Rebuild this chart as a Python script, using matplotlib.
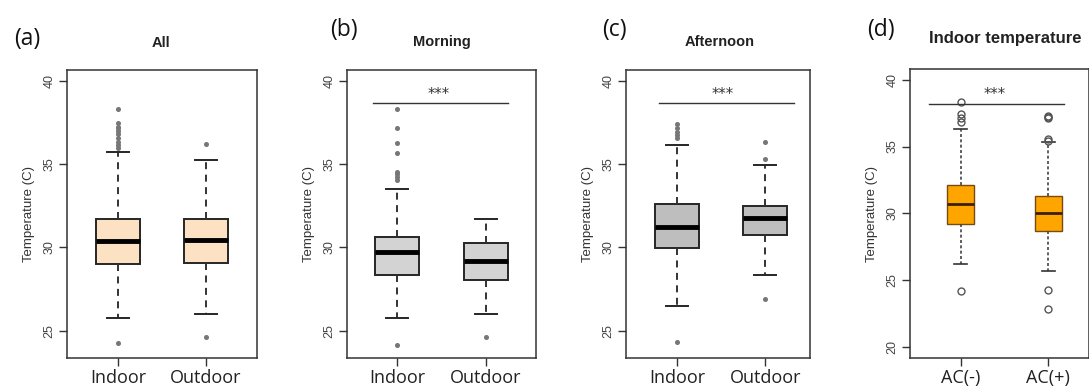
import matplotlib
matplotlib.use("Agg")
import matplotlib.pyplot as plt

# ---------------- data ----------------
categories_ab = ["Indoor", "Outdoor"]
categories_d = ["AC(-)", "AC(+)"]
titles = ["All", "Morning", "Afternoon", "Indoor temperature"]
panel_labels = ["(a)", "(b)", "(c)", "(d)"]

# stats per box: [whislo, q1, median, q3, whishi]
a_indoor = [25.76, 29.00, 30.38, 31.70, 35.70]
a_indoor_out = [24.26, 35.95, 36.15, 36.35, 36.55, 36.80, 37.00, 37.15, 37.25, 37.45, 38.30]
a_outdoor = [26.02, 29.05, 30.44, 31.73, 35.24]
a_outdoor_out = [24.62, 36.22]

b_indoor = [25.76, 28.35, 29.70, 30.64, 33.49]
b_indoor_out = [24.16, 34.05, 34.25, 34.40, 34.55, 35.68, 36.28, 37.15, 38.30]
b_outdoor = [25.98, 28.07, 29.17, 30.26, 31.69]
b_outdoor_out = [24.62]

c_indoor = [26.51, 29.98, 31.24, 32.59, 36.14]
c_indoor_out = [24.34, 36.55, 36.75, 36.95, 37.15, 37.40]
c_outdoor = [28.35, 30.72, 31.78, 32.49, 34.92]
c_outdoor_out = [26.89, 35.28, 36.30]

d_acminus = [26.22, 29.25, 30.72, 32.14, 36.32]
d_acminus_out = [24.18, 36.81, 37.14, 37.44, 38.30]
d_acplus = [25.72, 28.71, 30.03, 31.32, 35.32]
d_acplus_out = [22.84, 24.28, 35.45, 35.55, 37.12, 37.22, 37.30]

significance = ["***", "***", "***"]

# ---------------- layout helpers ----------------
W, H = 1089, 392
fig = plt.figure(figsize=(W / 100, H / 100), dpi=100)

def add_ax(left, right, top, bottom):
    return fig.add_axes([left / W, 1 - bottom / H, (right - left) / W, (bottom - top) / H])

def stats(vals, fl):
    lo, q1, med, q3, hi = vals
    return dict(whislo=lo, q1=q1, med=med, q3=q3, whishi=hi, fliers=fl)

def style_axes(ax, yticks, ylim, xlim, labels, tick_font):
    ax.set_ylim(*ylim)
    ax.set_xlim(*xlim)
    ax.set_yticks(yticks)
    ax.set_yticklabels([str(t) for t in yticks], rotation=90, va="center",
                       fontsize=9, color="#444444", family=["Liberation Sans", "DejaVu Sans"])
    ax.set_xticks([1, 2])
    ax.set_xticklabels(labels, fontsize=tick_font, color="#222222",
                       family=["Open Sans", "DejaVu Sans"])
    ax.tick_params(axis="both", length=5.5, width=1.0, color="#333333")
    ax.tick_params(axis="y", pad=3)
    ax.tick_params(axis="x", pad=2.5)
    for s in ax.spines.values():
        s.set_color("#333333")
        s.set_linewidth(1.1)
    ax.set_ylabel("Temperature (C)", fontsize=9.5, color="#333333",
                  family=["Liberation Sans", "DejaVu Sans"], labelpad=6)

def draw_grey(ax, s1, s2, fill):
    ax.bxp([s1, s2], positions=[1, 2], widths=0.5, patch_artist=True,
           showfliers=True, capwidths=0.25,
           boxprops=dict(facecolor=fill, edgecolor="#262626", linewidth=1.4),
           medianprops=dict(color="black", linewidth=3.5, solid_capstyle="butt"),
           whiskerprops=dict(color="#333333", linewidth=1.4, linestyle=(0, (3.6, 2.8))),
           capprops=dict(color="#262626", linewidth=1.4),
           flierprops=dict(marker="o", markersize=2.6, markerfacecolor="#777777",
                           markeredgecolor="#777777", linestyle="none"))

def sig(ax, x0, x1, y, xs, ys, text):
    ax.plot([x0, x1], [y, y], color="#333333", linewidth=1.0)
    ax.text(xs, ys, text, ha="center", va="center", fontsize=10.5, color="#333333")

ylim_abc = (23.36, 40.64)
yt_abc = [25, 30, 35, 40]

# (a)
ax_a = add_ax(67, 257, 70, 358)
draw_grey(ax_a, stats(a_indoor, a_indoor_out), stats(a_outdoor, a_outdoor_out), "#FCE2C2")
style_axes(ax_a, yt_abc, ylim_abc, (0.42, 2.58), categories_ab, 13)

# (b)
ax_b = add_ax(347, 536, 70, 358)
draw_grey(ax_b, stats(b_indoor, b_indoor_out), stats(b_outdoor, b_outdoor_out), "#D3D3D3")
style_axes(ax_b, yt_abc, ylim_abc, (0.43, 2.57), categories_ab, 13)
sig(ax_b, 0.72, 2.25, 38.67, 1.47, 39.2, significance[0])

# (c)
ax_c = add_ax(626, 809.5, 70, 358)
draw_grey(ax_c, stats(c_indoor, c_indoor_out), stats(c_outdoor, c_outdoor_out), "#BEBEBE")
style_axes(ax_c, yt_abc, ylim_abc, (0.42, 2.50), categories_ab, 13)
sig(ax_c, 0.79, 2.32, 38.67, 1.52, 39.2, significance[1])

# (d)
ax_d = add_ax(910, 1088.5, 69, 358)
ax_d.bxp([stats(d_acminus, d_acminus_out), stats(d_acplus, d_acplus_out)],
         positions=[1, 2], widths=0.31, patch_artist=True, showfliers=True, capwidths=0.15,
         boxprops=dict(facecolor="#FFA500", edgecolor="#7A4A10", linewidth=1.0),
         medianprops=dict(color="#3A2000", linewidth=2.0, solid_capstyle="butt"),
         whiskerprops=dict(color="#444444", linewidth=1.2, linestyle=(0, (1.8, 1.4))),
         capprops=dict(color="#333333", linewidth=1.2),
         flierprops=dict(marker="o", markersize=5.0, markerfacecolor="none",
                         markeredgecolor="#555555", markeredgewidth=1.0, linestyle="none"))
style_axes(ax_d, [20, 25, 30, 35, 40], (19.2, 40.8), (0.42, 2.46), categories_d, 13)
sig(ax_d, 0.64, 2.18, 38.19, 1.39, 38.93, significance[2])

# titles and panel labels
title_font = ["Liberation Sans Narrow", "Liberation Sans", "DejaVu Sans"]
fig.text(161 / W, 1 - 43 / H, titles[0], ha="center", va="center", fontsize=10.5,
         fontweight="bold", color="#222222", family=title_font)
fig.text(442 / W, 1 - 42 / H, titles[1], ha="center", va="center", fontsize=10.5,
         fontweight="bold", color="#222222", family=title_font)
fig.text(720 / W, 1 - 42 / H, titles[2], ha="center", va="center", fontsize=10.5,
         fontweight="bold", color="#222222", family=title_font)
fig.text(1005 / W, 1 - 39 / H, titles[3], ha="center", va="center", fontsize=12,
         fontweight="bold", color="#222222", family=title_font)

lab_font = ["Open Sans", "DejaVu Sans"]
fig.text(27 / W, 1 - 39 / H, panel_labels[0], ha="center", va="center", fontsize=16.5,
         color="#111111", family=lab_font)
fig.text(344 / W, 1 - 30 / H, panel_labels[1], ha="center", va="center", fontsize=16.5,
         color="#111111", family=lab_font)
fig.text(614 / W, 1 - 30 / H, panel_labels[2], ha="center", va="center", fontsize=16.5,
         color="#111111", family=lab_font)
fig.text(881 / W, 1 - 30 / H, panel_labels[3], ha="center", va="center", fontsize=16.5,
         color="#111111", family=lab_font)

fig.savefig("out.png", dpi=100, facecolor="white")
